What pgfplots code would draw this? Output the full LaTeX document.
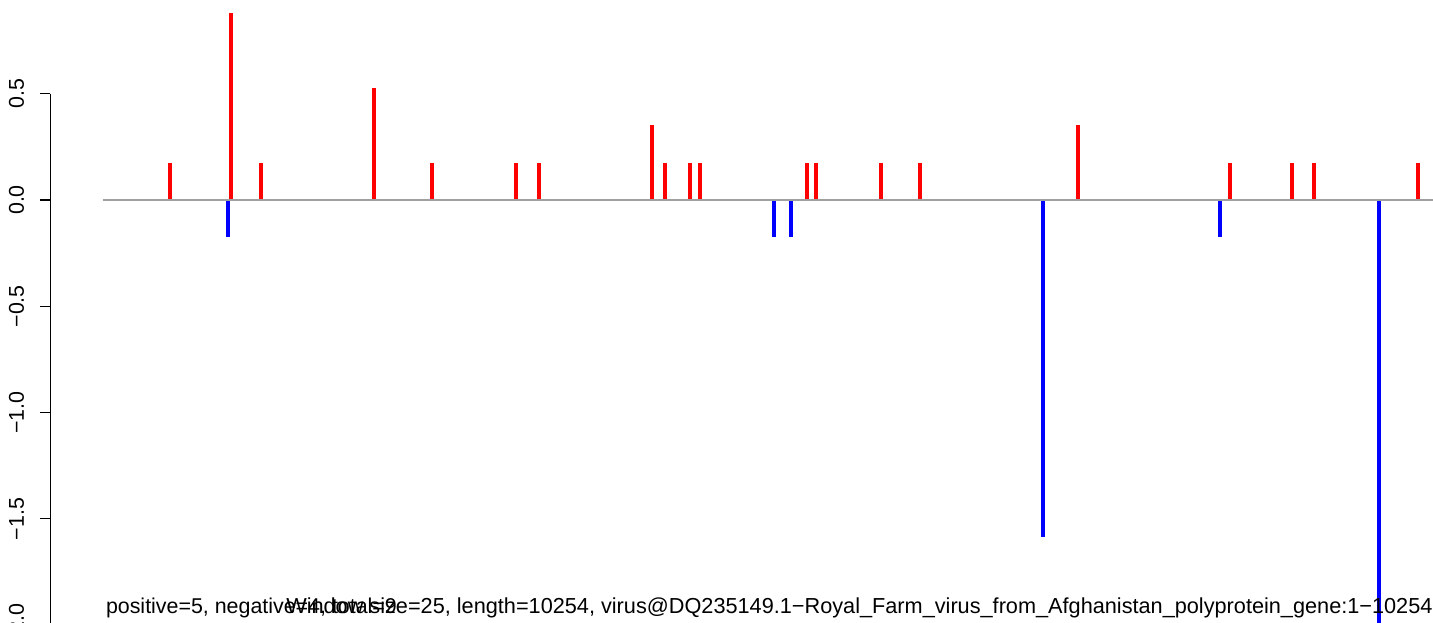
\documentclass[border=0pt]{standalone}
\usepackage{fontspec}
\setmainfont{Liberation Sans}
\usepackage{pgfplots}
\pgfplotsset{compat=1.18}
\definecolor{zgray}{RGB}{160,160,160}
\begin{document}
\fontsize{10.5}{12.6}\selectfont
\begin{tikzpicture}
\useasboundingbox (0,0) rectangle (716.5pt,311pt);
\clip (0,0) rectangle (716.5pt,311pt);
\begin{axis}[
  at={(25.15pt,311pt)}, anchor=north west,
  scale only axis, width=691.35pt, height=323.22pt,
  xmin=-409, xmax=10254, ymin=-2.1, ymax=0.9407,
  axis x line=none, axis y line=left, y axis line style={draw=none},
  ytick={-2,-1.5,-1,-0.5,0,0.5},
  yticklabels={−2.0,−1.5,−1.0,−0.5,0.0,0.5},
  tick align=outside, major tick length=5pt,
  ytick style={black, line width=0.6pt},
  yticklabel style={xshift=-7.85pt, rotate=90, anchor=south, inner sep=0pt, font=\fontsize{10.7}{12.8}\selectfont},
  clip=false,
]
\draw[black, line width=0.6pt] (axis cs:-409,0.5) -- (axis cs:-409,-2.1);
\addplot[ycomb, red, line width=2pt, mark=none] coordinates {
(514,0.1761) (985,0.8805) (1216,0.1761) (2087,0.5283) (2535,0.1761)
(3183,0.1761) (3360,0.1761) (4231,0.3522) (4332,0.1761) (4522,0.1761)
(4599,0.1761) (5427,0.1761) (5496,0.1761) (5997,0.1761) (6298,0.1761)
(7516,0.3522) (8689,0.1761) (9167,0.1761) (9336,0.1761) (10138,0.1761)
};
\addplot[ycomb, blue, line width=2pt, mark=none] coordinates {
(959,-0.1761) (5172,-0.1761) (5303,-0.1761) (7247,-1.5849) (8611,-0.1761) (9838,-2.1132)
};
\addplot[zgray, line width=0.65pt, mark=none] coordinates {(0,0) (10254,0)};
\end{axis}
\node[anchor=base west, inner sep=0pt, font=\fontsize{10.7}{12.8}\selectfont] at (52.8pt,4.5pt) {positive=5, negative=4, total=9};
\node[anchor=base east, inner sep=0pt, font=\fontsize{10.85}{13}\selectfont] at (716.5pt,4.5pt) {Window size=25, length=10254, virus@DQ235149.1−Royal\_Farm\_virus\_from\_Afghanistan\_polyprotein\_gene:1−10254};
\end{tikzpicture}
\end{document}
